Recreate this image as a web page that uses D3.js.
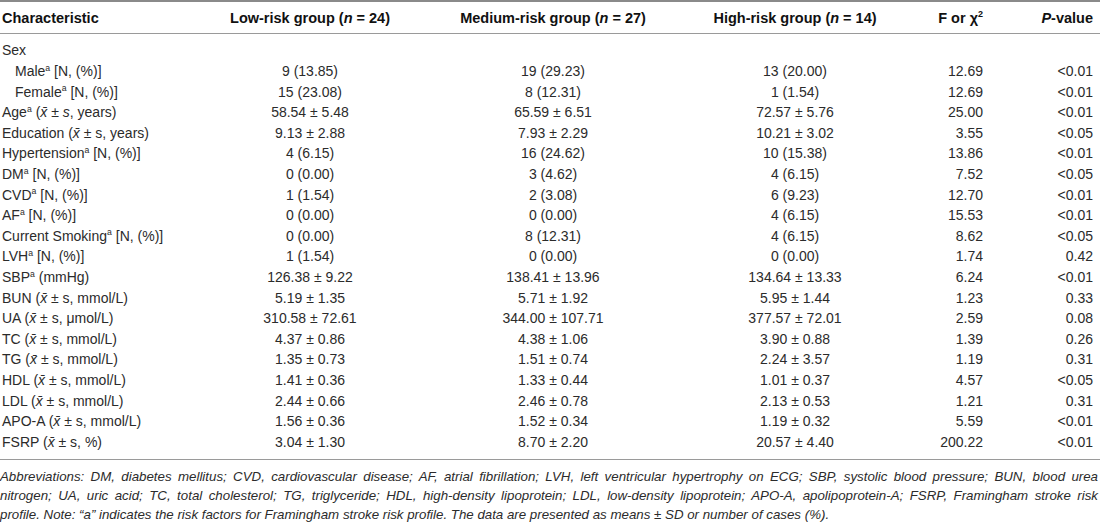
<!DOCTYPE html>
<html>
<head>
<meta charset="utf-8">
<script src="https://cdn.jsdelivr.net/npm/d3@7"></script>
<style>
  body { margin: 0; background: #fff; }
  svg { display: block; }
</style>
</head>
<body>
<div id="chart"></div>
<script>
// table content, one array per column
var headers = ["Characteristic", "Low-risk group (*n* = 24)", "Medium-risk group (*n* = 27)",
               "High-risk group (*n* = 14)", "F or χ^2", "*P*-value"];

// ^a = superscript a, x̄ and *..* = italic
var rowLabels = ["Sex", "Male^a [N, (%)]", "Female^a [N, (%)]", "Age^a (x̄ ± *s*, years)",
  "Education (x̄ ± s, years)", "Hypertension^a [N, (%)]", "DM^a [N, (%)]", "CVD^a [N, (%)]",
  "AF^a [N, (%)]", "Current Smoking^a [N, (%)]", "LVH^a [N, (%)]", "SBP^a (mmHg)",
  "BUN (x̄ ± s, mmol/L)", "UA (x̄ ± s, μmol/L)", "TC (x̄ ± s, mmol/L)", "TG (x̄ ± s, mmol/L)",
  "HDL (x̄ ± s, mmol/L)", "LDL (x̄ ± s, mmol/L)", "APO-A (x̄ ± s, mmol/L)", "FSRP (x̄ ± s, %)"];
var rowLevel = [0, 1, 1, 0, 0, 0, 0, 0, 0, 0, 0, 0, 0, 0, 0, 0, 0, 0, 0, 0];

var lowRisk = ["", "9 (13.85)", "15 (23.08)", "58.54 ± 5.48", "9.13 ± 2.88", "4 (6.15)", "0 (0.00)",
  "1 (1.54)", "0 (0.00)", "0 (0.00)", "1 (1.54)", "126.38 ± 9.22", "5.19 ± 1.35", "310.58 ± 72.61",
  "4.37 ± 0.86", "1.35 ± 0.73", "1.41 ± 0.36", "2.44 ± 0.66", "1.56 ± 0.36", "3.04 ± 1.30"];
var mediumRisk = ["", "19 (29.23)", "8 (12.31)", "65.59 ± 6.51", "7.93 ± 2.29", "16 (24.62)", "3 (4.62)",
  "2 (3.08)", "0 (0.00)", "8 (12.31)", "0 (0.00)", "138.41 ± 13.96", "5.71 ± 1.92", "344.00 ± 107.71",
  "4.38 ± 1.06", "1.51 ± 0.74", "1.33 ± 0.44", "2.46 ± 0.78", "1.52 ± 0.34", "8.70 ± 2.20"];
var highRisk = ["", "13 (20.00)", "1 (1.54)", "72.57 ± 5.76", "10.21 ± 3.02", "10 (15.38)", "4 (6.15)",
  "6 (9.23)", "4 (6.15)", "4 (6.15)", "0 (0.00)", "134.64 ± 13.33", "5.95 ± 1.44", "377.57 ± 72.01",
  "3.90 ± 0.88", "2.24 ± 3.57", "1.01 ± 0.37", "2.13 ± 0.53", "1.19 ± 0.32", "20.57 ± 4.40"];
var fStat = ["", "12.69", "12.69", "25.00", "3.55", "13.86", "7.52", "12.70", "15.53", "8.62", "1.74",
  "6.24", "1.23", "2.59", "1.39", "1.19", "4.57", "1.21", "5.59", "200.22"];
var pValue = ["", "<0.01", "<0.01", "<0.01", "<0.05", "<0.01", "<0.05", "<0.01", "<0.01", "<0.05", "0.42",
  "<0.01", "0.33", "0.08", "0.26", "0.31", "<0.05", "0.31", "<0.01", "<0.01"];

var footnote = [
  "Abbreviations: DM, diabetes mellitus; CVD, cardiovascular disease; AF, atrial fibrillation; LVH, left ventricular hypertrophy on ECG; SBP, systolic blood pressure; BUN, blood urea",
  "nitrogen; UA, uric acid; TC, total cholesterol; TG, triglyceride; HDL, high-density lipoprotein; LDL, low-density lipoprotein; APO-A, apolipoprotein-A; FSRP, Framingham stroke risk",
  "profile. Note: “a” indicates the risk factors for Framingham stroke risk profile. The data are presented as means ± SD or number of cases (%)."
];

var width = 1100, height = 522;
var font = "'Helvetica Neue', 'Liberation Sans', Arial, sans-serif";

var svg = d3.select("#chart").append("svg").attr("width", width).attr("height", height);
svg.append("rect").attr("width", width).attr("height", height).attr("fill", "#fff");

// columns: key -> x anchor, and how the text hangs on it
var colKeys = ["label", "low", "medium", "high", "f", "p"];
var colX = d3.scaleOrdinal().domain(colKeys).range([2, 310, 553, 795, 983, 1093]);
var colAnchor = d3.scaleOrdinal().domain(colKeys).range(["start", "middle", "middle", "middle", "end", "end"]);

var rowY = d3.scaleBand().domain(d3.range(rowLabels.length)).range([40, 452]);

// write a marked-up string into a text element as tspans
function rich(sel, str, size) {
    var parts = str.split(/(\^a|\^2|x̄|\*[^*]+\*)/).filter(function (p) { return p !== ""; });
    var shifted = false;
    parts.forEach(function (p) {
        var t = sel.append("tspan");
        if (shifted) { t.attr("dy", size * 0.38); shifted = false; }
        if (p === "^a" || p === "^2") {
            t.text(p.slice(1)).attr("font-size", size * 0.62).attr("dy", -size * 0.38);
            shifted = true;
        } else if (p === "x̄") {
            t.text(p).attr("font-style", "italic");
        } else if (p[0] === "*") {
            t.text(p.slice(1, -1)).attr("font-style", "italic");
        } else {
            t.text(p);
        }
    });
}

// rules
svg.append("line").attr("x1", 0).attr("x2", width).attr("y1", 1).attr("y2", 1)
    .attr("stroke", "#8a8a8a").attr("stroke-width", 2);
svg.append("line").attr("x1", 0).attr("x2", width).attr("y1", 33.5).attr("y2", 33.5)
    .attr("stroke", "#9a9a9a").attr("stroke-width", 1.2);
svg.append("line").attr("x1", 0).attr("x2", width).attr("y1", 459.5).attr("y2", 459.5)
    .attr("stroke", "#9a9a9a").attr("stroke-width", 1.2);

// header
svg.append("g").selectAll("text")
    .data(headers)
    .enter().append("text")
    .attr("x", function (d, i) { return colX(colKeys[i]); })
    .attr("y", 23)
    .attr("text-anchor", function (d, i) { return colAnchor(colKeys[i]); })
    .style("font-family", font)
    .style("font-weight", "bold")
    .style("font-size", "14.5px")
    .style("fill", "#111")
    .each(function (d) { rich(d3.select(this), d, 14.5); });

// body cells
var columns = [rowLabels, lowRisk, mediumRisk, highRisk, fStat, pValue];
var body = svg.append("g");
columns.forEach(function (values, c) {
    body.append("g").selectAll("text")
        .data(values)
        .enter().append("text")
        .attr("x", function (d, i) { return colX(colKeys[c]) + (c === 0 ? rowLevel[i] * 13 : 0); })
        .attr("y", function (d, i) { return rowY(i) + rowY.bandwidth() / 2; })
        .attr("dy", "0.36em")
        .attr("text-anchor", colAnchor(colKeys[c]))
        .style("font-family", font)
        .style("font-size", "14px")
        .style("fill", "#2b2b2b")
        .each(function (d) { rich(d3.select(this), d, 14); });
});

// footnote, first two lines justified to full width
var note = svg.append("g").selectAll("text")
    .data(footnote)
    .enter().append("text")
    .attr("x", 0)
    .attr("y", function (d, i) { return 481 + i * 18.8; })
    .style("font-family", font)
    .style("font-style", "italic")
    .style("font-size", "13.3px")
    .style("fill", "#2b2b2b")
    .text(function (d) { return d; });

note.each(function (d, i) {
    if (i === footnote.length - 1) return;
    var natural = this.getComputedTextLength();
    var gaps = d.split(" ").length - 1;
    d3.select(this).style("word-spacing", ((width - 2 - natural) / gaps) + "px");
});
</script>
</body>
</html>
